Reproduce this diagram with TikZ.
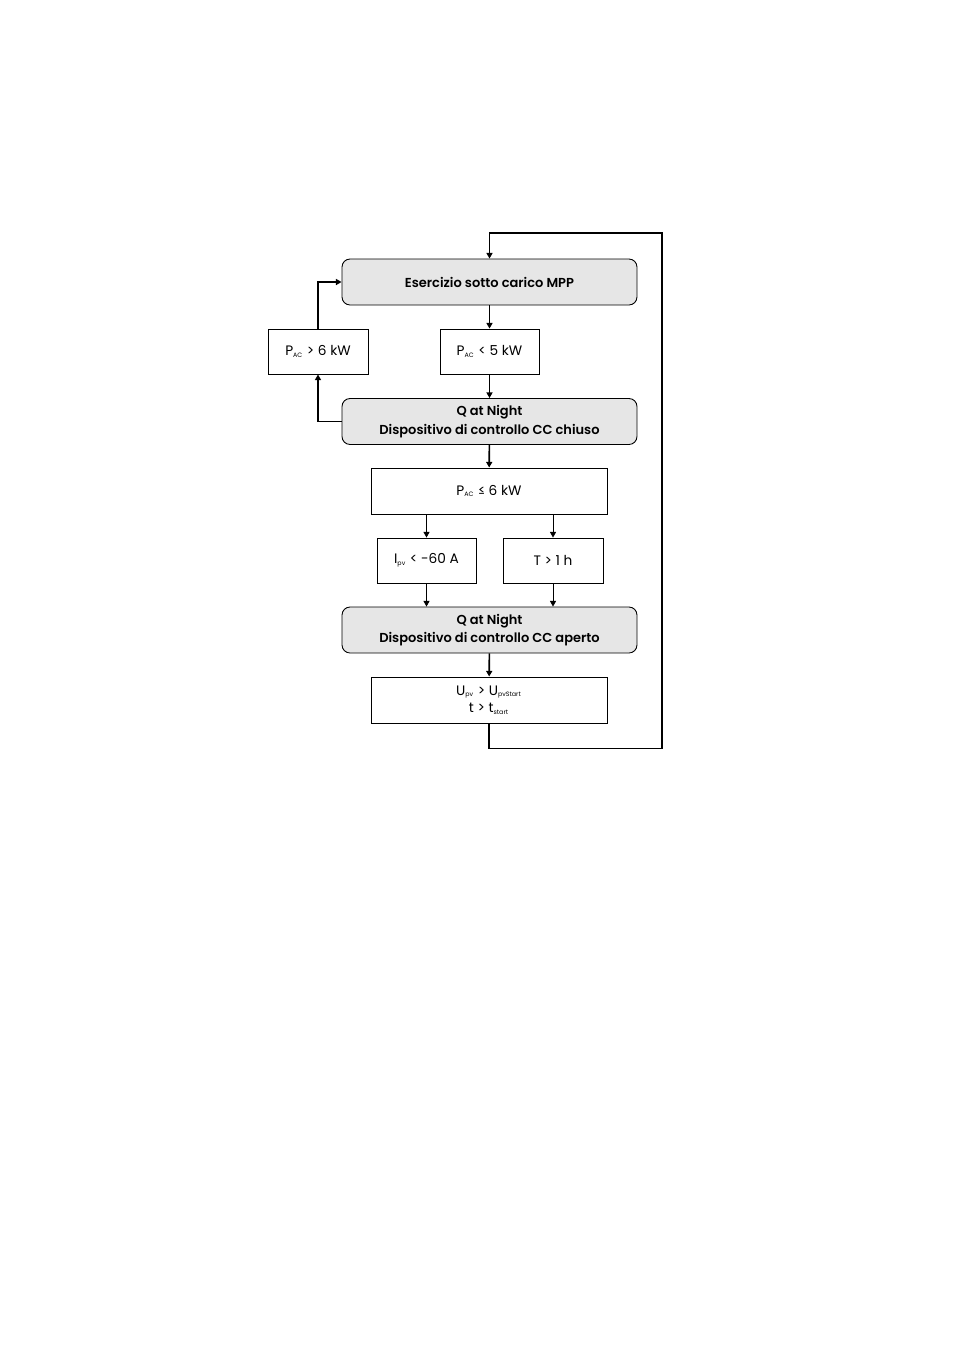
\documentclass[tikz,border=0pt]{standalone}
\usepackage{fontspec}
\setsansfont{Poppins}[BoldFont={Poppins SemiBold}]
\usepackage{tikz}
\usetikzlibrary{arrows.meta, positioning, calc}
\definecolor{stategray}{RGB}{230, 230, 230}
\newcommand{\sub}[1]{\textsubscript{\fontsize{3.6pt}{4pt}\selectfont #1}}

\begin{document}
\begin{tikzpicture}[x=0.02cm, y=-0.02cm,
        state/.style={draw, rounded corners=0.16cm, fill=stategray, minimum width=5.9cm,
                      minimum height=0.92cm, align=center, line width=0.5pt,
                      font=\sffamily\bfseries\fontsize{7.4pt}{10.6pt}\selectfont},
        cond/.style={draw, minimum height=0.9cm, align=center, line width=0.5pt,
                     font=\sffamily\fontsize{7.8pt}{10pt}\selectfont},
        arrow/.style={-{Triangle[length=3.2pt, width=3.4pt]}, line width=0.9pt},
        thinarrow/.style={-{Triangle[length=3.2pt, width=3.4pt]}, line width=0.5pt},
    ]
        \useasboundingbox (0,0) rectangle (954,1350);

        \node[state] (mpp) at (489.5,282) {Esercizio sotto carico MPP};
        \node[cond, minimum width=2cm] (pgt) at (318,351.5) {P\sub{AC} > 6 kW};
        \node[cond, minimum width=1.98cm] (plt) at (489.5,351.5) {P\sub{AC} < 5 kW};
        \node[state] (chiuso) at (489.5,421.5) {Q at Night\\Dispositivo di controllo CC chiuso};
        \node[cond, minimum width=4.72cm, minimum height=0.92cm] (ple) at (489,491) {P\sub{AC} ≤ 6 kW};
        \node[cond, minimum width=1.98cm] (ipv) at (426.5,560.5) {I\sub{pv} < -60 A};
        \node[cond, minimum width=2cm] (thr) at (553,560.5) {T > 1 h};
        \node[state] (aperto) at (489.5,630) {Q at Night\\Dispositivo di controllo CC aperto};
        \node[cond, minimum width=4.72cm, minimum height=0.92cm] (ups) at (489,700)
            {U\sub{pv} > U\sub{pvStart}\\t > t\sub{start}};

        % main path
        \draw[arrow] (mpp) -- (plt);
        \draw[arrow] (plt) -- (chiuso);
        \draw[arrow] (chiuso) -- (ple);
        \draw[arrow] (aperto) -- (ups);
        \draw[arrow] (chiuso.west) -| (pgt.south);
        \draw[arrow] (pgt.north) |- (mpp.west);
        \draw[arrow] (ups.south) -- ++(0,25) -| (662,233) -| (mpp.north);

        % branches
        \draw[thinarrow] (ple.south -| ipv.north) -- (ipv.north);
        \draw[thinarrow] (ple.south -| thr.north) -- (thr.north);
        \draw[thinarrow] (ipv.south) -- (ipv.south |- aperto.north);
        \draw[thinarrow] (thr.south) -- (thr.south |- aperto.north);
    \end{tikzpicture}
\end{document}
